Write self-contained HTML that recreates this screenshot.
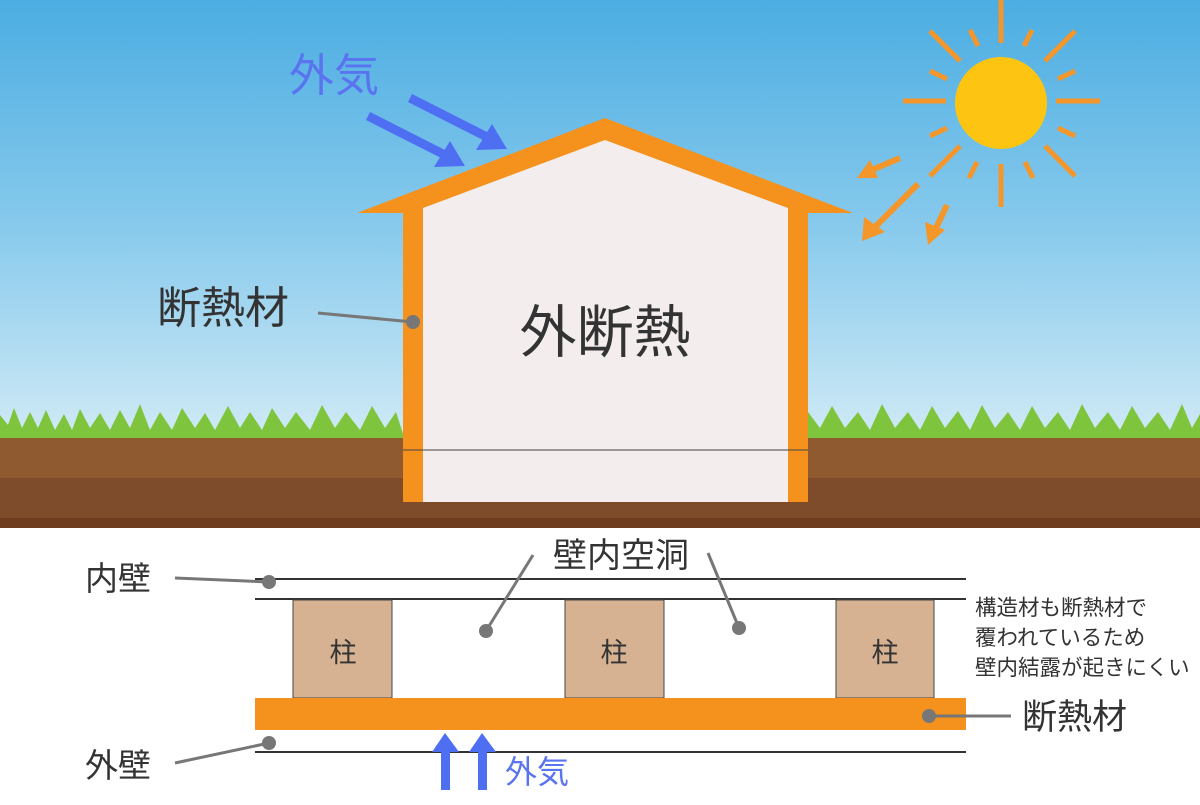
<!DOCTYPE html>
<html><head><meta charset="utf-8"><style>
body{margin:0;width:1200px;height:800px;overflow:hidden;background:#fff}
svg text{font-family:"Liberation Sans","Noto Sans CJK JP",sans-serif}
</style></head><body>
<svg width="1200" height="800" viewBox="0 0 1200 800" xmlns="http://www.w3.org/2000/svg">
<defs>
<linearGradient id="sky" x1="0" y1="0" x2="0" y2="1">
<stop offset="0" stop-color="#4badE2"/><stop offset="0.5" stop-color="#86c9ec"/><stop offset="1" stop-color="#d2ebf6"/>
</linearGradient>
</defs>
<rect x="0" y="0" width="1200" height="445" fill="url(#sky)"/>
<path d="M0 440 L0 415 L8 425 L14 408 L22 428 L30 412 L38 428 L46 410 L55 430 L64 414 L72 430 L80 409 L90 428 L100 413 L110 430 L120 410 L130 428 L140 404 L150 430 L160 412 L172 430 L182 408 L195 428 L205 413 L215 430 L228 406 L240 428 L250 412 L262 430 L272 408 L285 428 L296 412 L310 430 L322 405 L335 428 L346 412 L360 430 L372 406 L385 428 L396 412 L405 440 Z" fill="#7fc43d"/>
<path d="M808 440 L808 412 L820 428 L832 406 L845 428 L858 412 L870 430 L882 404 L895 428 L908 412 L920 430 L932 406 L945 428 L958 411 L970 430 L982 405 L995 428 L1008 412 L1020 430 L1032 406 L1045 428 L1058 412 L1070 430 L1082 404 L1095 428 L1108 412 L1120 430 L1132 406 L1145 428 L1158 412 L1170 430 L1182 404 L1192 428 L1200 414 L1200 440 Z" fill="#7fc43d"/>
<rect x="0" y="438" width="1200" height="42" fill="#8f5a30"/>
<rect x="0" y="478" width="1200" height="42" fill="#7f4c2b"/>
<rect x="0" y="518" width="1200" height="10" fill="#6e3c1f"/>
<polygon points="357,213 605,118 853,213 808,213 808,502 403,502 403,213" fill="#f5921e"/>
<polygon points="423,208 605,140 788,208 788,502 423,502" fill="#f3eded"/>
<line x1="403" y1="450" x2="808" y2="450" stroke="#444" stroke-width="1"/>
<text x="605" y="352" font-size="57" fill="#333" text-anchor="middle">外断熱</text>
<text x="157" y="323" font-size="44" fill="#333">断熱材</text>
<line x1="318" y1="313" x2="413" y2="322" stroke="#777" stroke-width="3"/>
<circle cx="413" cy="322" r="7" fill="#777"/>
<text x="289" y="91" font-size="45" fill="#5a74f0">外気</text>
<g stroke="#4f6ff2" stroke-width="9" fill="#4f6ff2">
<line x1="368" y1="116" x2="445" y2="155"/>
<line x1="410" y1="98" x2="487" y2="137"/>
</g>
<polygon points="465,166 434,167 450,141" fill="#4f6ff2"/>
<polygon points="507,149 476,150 492,124" fill="#4f6ff2"/>
<circle cx="1001" cy="103" r="46" fill="#fdc512"/>
<g stroke="#f5962a" stroke-width="5" stroke-linecap="butt">
<line x1="1001" y1="0" x2="1001" y2="43"/>
<line x1="1001" y1="164" x2="1001" y2="207"/>
<line x1="903" y1="101" x2="946" y2="101"/>
<line x1="1056" y1="101" x2="1100" y2="101"/>
<line x1="930" y1="31" x2="960" y2="61"/>
<line x1="1045" y1="61" x2="1075" y2="31"/>
<line x1="930" y1="176" x2="960" y2="146"/>
<line x1="1045" y1="146" x2="1075" y2="176"/>
<line x1="970" y1="30" x2="978" y2="46"/>
<line x1="1032" y1="30" x2="1024" y2="46"/>
<line x1="930" y1="71" x2="947" y2="79"/>
<line x1="1058" y1="79" x2="1075" y2="71"/>
<line x1="930" y1="136" x2="947" y2="128"/>
<line x1="1058" y1="128" x2="1075" y2="136"/>
<line x1="977" y1="162" x2="969" y2="178"/>
<line x1="1025" y1="162" x2="1033" y2="178"/>
</g>
<g stroke="#f5962a" stroke-width="6" fill="#f5962a">
<line x1="900" y1="158" x2="872" y2="170"/>
<line x1="918" y1="184" x2="875" y2="227"/>
<line x1="947" y1="205" x2="935" y2="230"/>
</g>
<polygon points="857,178 870,160 878,178" fill="#f5962a"/>
<polygon points="862,241 864,217 885,232" fill="#f5962a"/>
<polygon points="928,245 925,222 945,230" fill="#f5962a"/>
<line x1="255" y1="579" x2="966" y2="579" stroke="#333" stroke-width="2"/>
<line x1="255" y1="599" x2="966" y2="599" stroke="#333" stroke-width="2"/>
<g fill="#d6b292" stroke="#444" stroke-width="1">
<rect x="293" y="600" width="99" height="98"/>
<rect x="565" y="600" width="99" height="98"/>
<rect x="836" y="600" width="98" height="98"/>
</g>
<g font-size="27" fill="#333" text-anchor="middle">
<text x="343" y="662">柱</text><text x="614" y="662">柱</text><text x="885" y="662">柱</text>
</g>
<rect x="255" y="698" width="711" height="32" fill="#f5921e"/>
<line x1="255" y1="752" x2="966" y2="752" stroke="#333" stroke-width="2"/>
<g stroke="#777" stroke-width="3">
<line x1="175" y1="578" x2="269" y2="582"/>
<line x1="175" y1="763" x2="269" y2="743"/>
<line x1="533" y1="555" x2="486" y2="631"/>
<line x1="708" y1="553" x2="739" y2="628"/>
<line x1="929" y1="716" x2="1011" y2="716"/>
</g>
<g fill="#777">
<circle cx="269" cy="582" r="7"/><circle cx="269" cy="743" r="7"/>
<circle cx="486" cy="631" r="7"/><circle cx="739" cy="628" r="7"/><circle cx="929" cy="716" r="7"/>
</g>
<text x="85" y="590" font-size="33" fill="#333">内壁</text>
<text x="85" y="777" font-size="33" fill="#333">外壁</text>
<text x="553" y="567" font-size="34" fill="#333">壁内空洞</text>
<text x="1022" y="729" font-size="35" fill="#333">断熱材</text>
<g font-size="21.5" fill="#333">
<text x="975" y="615">構造材も断熱材で</text>
<text x="975" y="645">覆われているため</text>
<text x="975" y="675">壁内結露が起きにくい</text>
</g>
<g fill="#4f6ff2">
<rect x="441" y="750" width="9" height="40"/><rect x="478" y="750" width="9" height="40"/>
<polygon points="432,752 445,733 459,752"/><polygon points="469,752 482,733 496,752"/>
</g>
<text x="505" y="783" font-size="32" fill="#5a74f0">外気</text>
</svg>
</body></html>
